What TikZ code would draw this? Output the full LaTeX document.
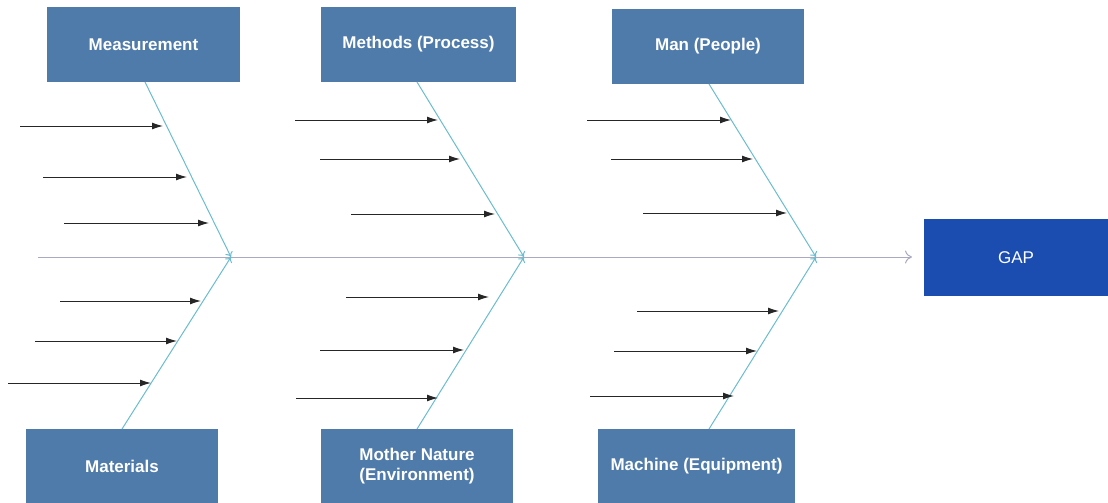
\documentclass[tikz,border=0pt]{standalone}
\usepackage{fontspec}
\setmainfont{Liberation Sans}
\usetikzlibrary{arrows.meta,calc}
\definecolor{boxblue}{HTML}{4F7BAA}
\definecolor{gapblue}{HTML}{1B4DB1}
\definecolor{bonecol}{HTML}{6ABDCF}
\definecolor{spinecol}{HTML}{A9A9C2}
\tikzset{
  catbox/.style={fill=boxblue, draw=none, text=white, font=\fontsize{17}{20}\selectfont\bfseries, align=center, inner sep=0pt},
  gapbox/.style={fill=gapblue, draw=none, text=white, font=\fontsize{17}{20}\selectfont, inner sep=0pt},
  bone/.style={draw=bonecol, line width=1pt, -{To[length=5pt,width=8pt]}},
  spine/.style={draw=spinecol, line width=1pt, -{To[length=7pt,width=13pt]}},
  cause/.style={draw=black!85, line width=1pt, -{Latex[length=11pt,width=7pt]}},
}
\begin{document}
\begin{tikzpicture}[x=1pt,y=-1pt]
\useasboundingbox (0,0) rectangle (1108,503);
% category boxes
\node[catbox, minimum width=193pt, minimum height=75pt] (meas) at (143.5,44.5) {Measurement};
\node[catbox, minimum width=195pt, minimum height=75pt] (meth) at (418.5,44.5) {Methods (Process)};
\node[catbox, minimum width=192pt, minimum height=75pt] (man) at (708,46.5) {Man (People)};
\node[catbox, minimum width=192pt, minimum height=74pt] (mat) at (122,466) {Materials};
\node[catbox, minimum width=192pt, minimum height=74pt] (env) at (417,466) {Mother Nature\\(Environment)};
\node[catbox, minimum width=197pt, minimum height=74pt] (mach) at (696.5,466) {Machine (Equipment)};
\node[gapbox, minimum width=184pt, minimum height=77pt] (gap) at (1016,257.5) {GAP};
% spine
\coordinate (s0) at (38,257);
\coordinate (s1) at (912,257);
\coordinate (j1) at (231,257);
\coordinate (j2) at (524,257);
\coordinate (j3) at (816,257);
\draw[spine] (s0) -- (s1);
% bones
\coordinate (tb1) at (145,82);
\coordinate (tb2) at (417,82);
\coordinate (tb3) at (709,84);
\coordinate (bb1) at (122,429);
\coordinate (bb2) at (417,429);
\coordinate (bb3) at (709,429);
\draw[bone] (tb1) -- (j1);
\draw[bone] (bb1) -- (j1);
\draw[bone] (tb2) -- (j2);
\draw[bone] (bb2) -- (j2);
\draw[bone] (tb3) -- (j3);
\draw[bone] (bb3) -- (j3);
% cause arrows
\coordinate (a1e) at (163,126); \coordinate (a1s) at (20,126);
\coordinate (a2e) at (187,177); \coordinate (a2s) at (43,177);
\coordinate (a3e) at (209,223); \coordinate (a3s) at (64,223);
\coordinate (a4e) at (201,301); \coordinate (a4s) at (60,301);
\coordinate (a5e) at (177,341); \coordinate (a5s) at (35,341);
\coordinate (a6e) at (151,383); \coordinate (a6s) at (8,383);
\coordinate (b1e) at (438,120); \coordinate (b1s) at (295,120);
\coordinate (b2e) at (460,159); \coordinate (b2s) at (320,159);
\coordinate (b3e) at (495,214); \coordinate (b3s) at (351,214);
\coordinate (b4e) at (489,297); \coordinate (b4s) at (346,297);
\coordinate (b5e) at (464,350); \coordinate (b5s) at (320,350);
\coordinate (b6e) at (438,398); \coordinate (b6s) at (296,398);
\coordinate (c1e) at (731,120); \coordinate (c1s) at (587,120);
\coordinate (c2e) at (753,159); \coordinate (c2s) at (611,159);
\coordinate (c3e) at (787,213); \coordinate (c3s) at (643,213);
\coordinate (c4e) at (779,311); \coordinate (c4s) at (637,311);
\coordinate (c5e) at (757,351); \coordinate (c5s) at (614,351);
\coordinate (c6e) at (734,396); \coordinate (c6s) at (590,396);
\foreach \n in {a1,a2,a3,a4,a5,a6,b1,b2,b3,b4,b5,b6,c1,c2,c3,c4,c5,c6}
  \draw[cause] (\n s) -- (\n e);
\end{tikzpicture}
\end{document}
